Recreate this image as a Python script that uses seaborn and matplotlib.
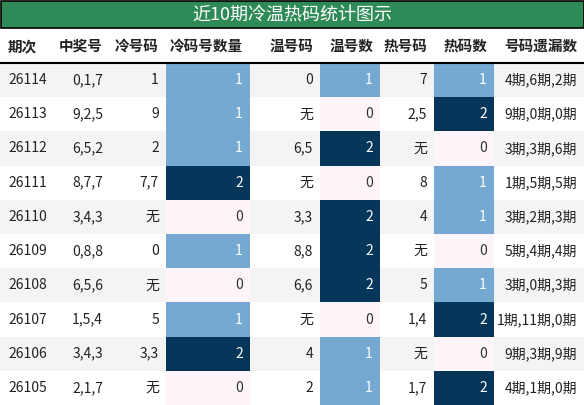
import matplotlib
matplotlib.use("Agg")
import matplotlib.pyplot as plt
import seaborn as sns
from matplotlib.patches import Rectangle
from matplotlib.colors import ListedColormap, BoundaryNorm

sns.set_theme(style="white")
plt.rcParams['font.family'] = ['Noto Sans CJK SC', 'DejaVu Sans']

title = "近10期冷温热码统计图示"
headers = ["期次", "中奖号", "冷号码", "冷码号数量", "温号码", "温号数", "热号码", "热码数", "号码遗漏数"]
periods = ["26114", "26113", "26112", "26111", "26110", "26109", "26108", "26107", "26106", "26105"]
winning = ["0,1,7", "9,2,5", "6,5,2", "8,7,7", "3,4,3", "0,8,8", "6,5,6", "1,5,4", "3,4,3", "2,1,7"]
cold = ["1", "9", "2", "7,7", "无", "0", "无", "5", "3,3", "无"]
cold_n = [1, 1, 1, 2, 0, 1, 0, 1, 2, 0]
warm = ["0", "无", "6,5", "无", "3,3", "8,8", "6,6", "无", "4", "2"]
warm_n = [1, 0, 2, 0, 2, 2, 2, 0, 1, 1]
hot = ["7", "2,5", "无", "8", "4", "无", "5", "1,4", "无", "1,7"]
hot_n = [1, 2, 0, 1, 1, 0, 1, 2, 0, 2]
miss = ["4期,6期,2期", "9期,0期,0期", "3期,3期,6期", "1期,5期,5期", "3期,2期,3期",
        "5期,4期,4期", "3期,0期,3期", "1期,11期,0期", "9期,3期,9期", "4期,1期,0期"]

cmap = ListedColormap(["#fdf5fa", "#75a9d1", "#06375a"])
norm = BoundaryNorm([-0.5, 0.5, 1.5, 2.5], 3)

fig = plt.figure(figsize=(5.84, 4.05), dpi=100)
ax = fig.add_axes([0, 0, 1, 1])
ax.set_xlim(0, 584); ax.set_ylim(405, 0); ax.axis("off")

# title bar
ax.add_patch(Rectangle((0.5, 0.5), 583, 27.5, facecolor="#2e8b57", edgecolor="black", lw=1.2))
ax.text(292, 15, title, ha="center", va="center", color="white", fontsize=13)

top, rh = 63, 34.2
ax.plot([0, 584], [top, top], color="black", lw=1.5)
hx = [8, 103, 159, 243, 313, 373, 427, 487, 577]
for i, h in enumerate(headers):
    ax.text(hx[i], 46, h, ha="left" if i == 0 else "right", va="center",
            fontsize=10.5, fontweight="bold", color="#222222")

cells = [(166, 250, cold_n), (320, 380, warm_n), (434, 494, hot_n)]
for r in range(len(periods)):
    y0 = top + r * rh
    if r % 2 == 0:
        ax.add_patch(Rectangle((0, y0), 584, rh, facecolor="#f4f4f4", lw=0))
    yc = y0 + rh / 2
    for x0, x1, vals in cells:
        v = vals[r]
        ax.add_patch(Rectangle((x0, y0), x1 - x0, rh, facecolor=cmap(norm(v)), lw=0))
        ax.text(x1 - 7, yc, str(v), ha="right", va="center", fontsize=10,
                color="white" if v > 0 else "#333333")
    ax.text(8, yc, periods[r], ha="left", va="center", fontsize=10, color="#222222")
    for x, col in [(103, winning), (159, cold), (313, warm), (427, hot), (577, miss)]:
        ax.text(x, yc, col[r], ha="right", va="center", fontsize=10, color="#222222")

fig.savefig("out.png", dpi=100)
